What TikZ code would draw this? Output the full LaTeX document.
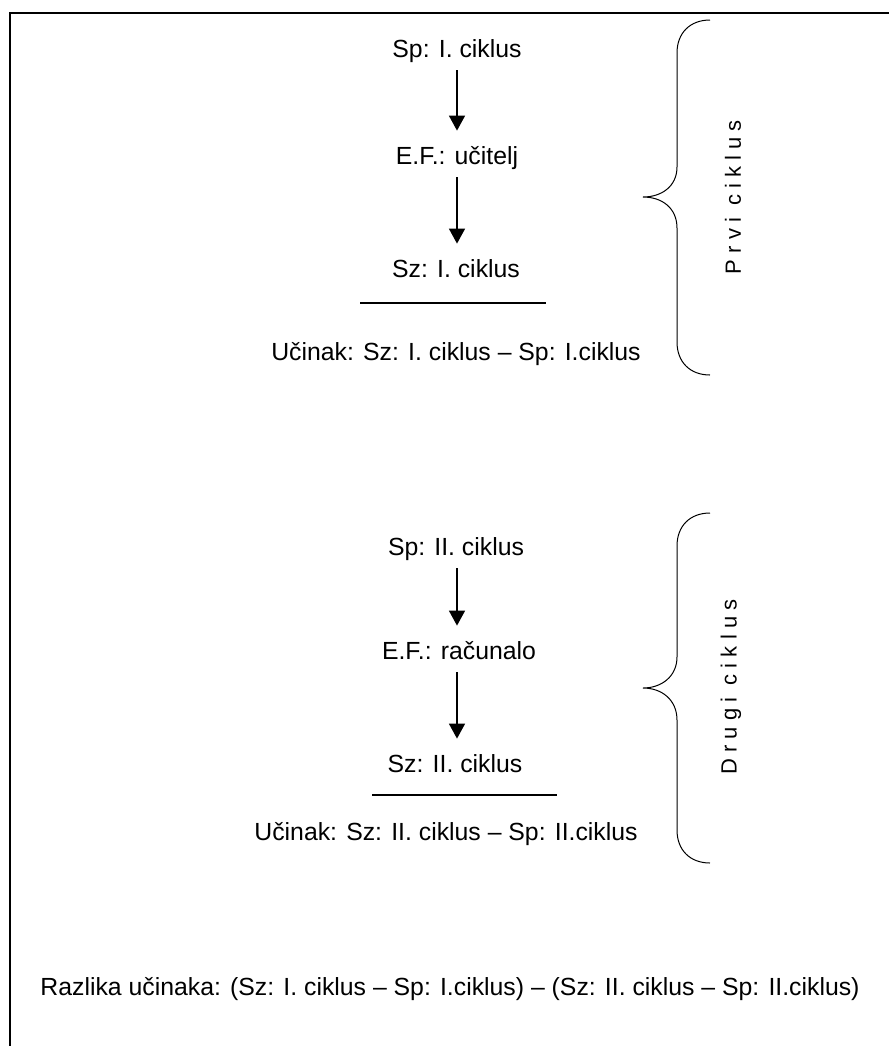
\documentclass[tikz,border=0pt]{standalone}
\usepackage{fontspec}
\setmainfont{Liberation Sans}
\usetikzlibrary{arrows.meta,positioning}
\tikzset{
ciktext/.style={inner sep=0pt,text height=9pt,text depth=2.5pt,anchor=base,
  font=\fontsize{12.4}{15}\selectfont},
ciklabel/.style={rotate=90,inner sep=0pt,font=\fontsize{11}{12}\selectfont},
cikarr/.style={line width=0.75pt,-{Triangle[length=7.5pt,width=8pt]},
  shorten <=4pt,shorten >=7.5pt},
cikbrace/.style={line width=0.5pt},
cikrule/.style={line width=0.6pt}
}

\begin{document}
\begin{tikzpicture}[x=0.5pt,y=-0.5pt]
\useasboundingbox (0,0) rectangle (889,1046);
\draw[line width=1pt] (10,1046) -- (10,13) -- (889,13);

% prvi ciklus
\node[ciktext] (sp1) at (457,57) {Sp: I. ciklus};
\node[ciktext] (ef1) at (457,164) {E.F.: učitelj};
\node[ciktext] (sz1) at (456,277) {Sz: I. ciklus};
\node[ciktext] (uc1) at (456,360) {Učinak: Sz: I. ciklus – Sp: I.ciklus};
\draw[cikarr] (sp1) -- (ef1);
\draw[cikarr] (ef1.south -| sp1) -- (sz1.north -| sp1);
\draw[cikrule] (360,303) -- (546,303);
\draw[cikbrace] (710,20) .. controls (690,20) and (677,33) .. (677,53) -- (677,167)
  .. controls (677,186) and (662,197) .. (643,197)
  .. controls (662,197) and (677,208) .. (677,228) -- (677,342)
  .. controls (677,362) and (690,375) .. (710,375);
\node[ciklabel] (lbl1) at (733,197) {P r v i\ \ c i k l u s};

% drugi ciklus
\node[ciktext] (sp2) at (456,555) {Sp: II. ciklus};
\node[ciktext] (ef2) at (459,659) {E.F.: računalo};
\node[ciktext] (sz2) at (455,772) {Sz: II. ciklus};
\node[ciktext] (uc2) at (446,840) {Učinak: Sz: II. ciklus – Sp: II.ciklus};
\draw[cikarr] (sp2.south -| 457,0) -- (ef2.north -| 457,0);
\draw[cikarr] (ef2.south -| 457,0) -- (sz2.north -| 457,0);
\draw[cikrule] (372,795) -- (557,795);
\draw[cikbrace] (710,513) .. controls (690,513) and (677,526) .. (677,546) -- (677,657)
  .. controls (677,676) and (662,688) .. (643,688)
  .. controls (662,688) and (677,700) .. (677,720) -- (677,830)
  .. controls (677,850) and (690,863) .. (710,863);
\node[ciklabel] (lbl2) at (731,687) {D r u g i\ \ c i k l u s};

% razlika
\node[ciktext] (raz) at (450,995) {Razlika učinaka: (Sz: I. ciklus – Sp: I.ciklus) – (Sz: II. ciklus – Sp: II.ciklus)};
\end{tikzpicture}
\end{document}
